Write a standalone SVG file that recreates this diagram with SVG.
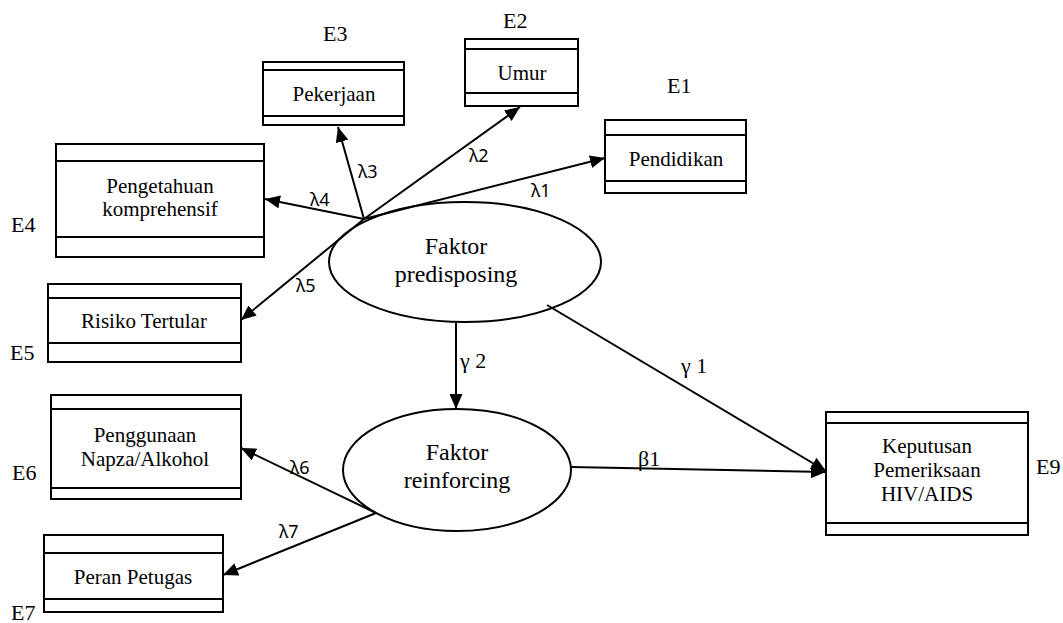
<svg xmlns="http://www.w3.org/2000/svg" width="1063" height="623" viewBox="0 0 1063 623">
<defs>
<marker id="ah" markerUnits="userSpaceOnUse" markerWidth="15" markerHeight="13" refX="15" refY="6.5" orient="auto">
<path d="M0,0 L15,6.5 L0,13 z" fill="#000"/>
</marker>
</defs>
<rect width="1063" height="623" fill="#fff"/>

<g id="nodes" stroke="#000" stroke-width="2" fill="#fff">
<g id="pekerjaan">
<rect x="263" y="62" width="141" height="63"/>
<line x1="263" y1="70" x2="404" y2="70"/>
<line x1="263" y1="116" x2="404" y2="116"/>
<text x="334" y="101" stroke="none" fill="#000" font-family="'Liberation Serif'" font-size="21" text-anchor="middle">Pekerjaan</text>
<text x="323" y="41" stroke="none" fill="#000" font-family="'Liberation Serif'" font-size="22">E3</text>
</g>

<g id="umur">
<rect x="465" y="39" width="113" height="67"/>
<line x1="465" y1="49" x2="578" y2="49"/>
<line x1="465" y1="93" x2="578" y2="93"/>
<text x="522" y="80" stroke="none" fill="#000" font-family="'Liberation Serif'" font-size="21" text-anchor="middle">Umur</text>
<text x="503" y="28" stroke="none" fill="#000" font-family="'Liberation Serif'" font-size="22">E2</text>
</g>

<g id="pendidikan">
<rect x="605" y="120" width="141" height="73"/>
<line x1="605" y1="135" x2="746" y2="135"/>
<line x1="605" y1="181" x2="746" y2="181"/>
<text x="676" y="166" stroke="none" fill="#000" font-family="'Liberation Serif'" font-size="21" text-anchor="middle">Pendidikan</text>
<text x="667" y="93" stroke="none" fill="#000" font-family="'Liberation Serif'" font-size="22">E1</text>
</g>

<g id="pengetahuan">
<rect x="56" y="144" width="208" height="113"/>
<line x1="56" y1="161" x2="264" y2="161"/>
<line x1="56" y1="237" x2="264" y2="237"/>
<text x="160" y="193" stroke="none" fill="#000" font-family="'Liberation Serif'" font-size="21" text-anchor="middle">Pengetahuan</text>
<text x="160" y="216" stroke="none" fill="#000" font-family="'Liberation Serif'" font-size="21" text-anchor="middle">komprehensif</text>
<text x="11" y="232" stroke="none" fill="#000" font-family="'Liberation Serif'" font-size="22">E4</text>
</g>

<g id="risiko">
<rect x="48" y="284" width="193" height="78"/>
<line x1="48" y1="298" x2="241" y2="298"/>
<line x1="48" y1="343" x2="241" y2="343"/>
<text x="144" y="328" stroke="none" fill="#000" font-family="'Liberation Serif'" font-size="21" text-anchor="middle">Risiko Tertular</text>
<text x="10" y="360" stroke="none" fill="#000" font-family="'Liberation Serif'" font-size="22">E5</text>
</g>

<g id="penggunaan">
<rect x="51" y="395" width="190" height="104"/>
<line x1="51" y1="409" x2="241" y2="409"/>
<line x1="51" y1="488" x2="241" y2="488"/>
<text x="145" y="442" stroke="none" fill="#000" font-family="'Liberation Serif'" font-size="21" text-anchor="middle">Penggunaan</text>
<text x="145" y="466" stroke="none" fill="#000" font-family="'Liberation Serif'" font-size="21" text-anchor="middle">Napza/Alkohol</text>
<text x="12" y="480" stroke="none" fill="#000" font-family="'Liberation Serif'" font-size="22">E6</text>
</g>

<g id="peran">
<rect x="44" y="535" width="179" height="77"/>
<line x1="44" y1="553" x2="223" y2="553"/>
<line x1="44" y1="599" x2="223" y2="599"/>
<text x="133" y="584" stroke="none" fill="#000" font-family="'Liberation Serif'" font-size="21" text-anchor="middle">Peran Petugas</text>
<text x="11" y="620" stroke="none" fill="#000" font-family="'Liberation Serif'" font-size="22">E7</text>
</g>

<g id="keputusan">
<rect x="826" y="412" width="202" height="123"/>
<line x1="826" y1="423" x2="1028" y2="423"/>
<line x1="826" y1="523" x2="1028" y2="523"/>
<text x="927" y="453" stroke="none" fill="#000" font-family="'Liberation Serif'" font-size="21" text-anchor="middle">Keputusan</text>
<text x="927" y="477" stroke="none" fill="#000" font-family="'Liberation Serif'" font-size="21" text-anchor="middle">Pemeriksaan</text>
<text x="927" y="501" stroke="none" fill="#000" font-family="'Liberation Serif'" font-size="21" text-anchor="middle">HIV/AIDS</text>
<text x="1036" y="474" stroke="none" fill="#000" font-family="'Liberation Serif'" font-size="22">E9</text>
</g>

<g id="predisposing">
<ellipse cx="465" cy="262" rx="136" ry="60" fill="none"/>
<text x="456" y="254" stroke="none" fill="#000" font-family="'Liberation Serif'" font-size="24" text-anchor="middle">Faktor</text>
<text x="456" y="282" stroke="none" fill="#000" font-family="'Liberation Serif'" font-size="24" text-anchor="middle">predisposing</text>
</g>

<g id="reinforcing">
<ellipse cx="457" cy="470" rx="114" ry="61" fill="none"/>
<text x="457" y="460" stroke="none" fill="#000" font-family="'Liberation Serif'" font-size="24" text-anchor="middle">Faktor</text>
<text x="457" y="488" stroke="none" fill="#000" font-family="'Liberation Serif'" font-size="24" text-anchor="middle">reinforcing</text>
</g>
</g>

<g id="connectors" stroke="#000" stroke-width="2" fill="none" marker-end="url(#ah)">
<line x1="364" y1="219" x2="338" y2="127"/>
<line x1="364" y1="219" x2="520" y2="107"/>
<line x1="364" y1="219" x2="605" y2="158"/>
<line x1="364" y1="219" x2="265" y2="199"/>
<line x1="364" y1="219" x2="241" y2="320"/>
<line x1="456" y1="323" x2="456" y2="409"/>
<line x1="547" y1="305" x2="826" y2="471"/>
<line x1="571" y1="467" x2="826" y2="472"/>
<line x1="376" y1="513" x2="241" y2="448"/>
<line x1="376" y1="513" x2="223" y2="575"/>
</g>
<g id="labels" fill="#000">
<text x="358" y="178" font-family="'Noto Sans'" font-size="18">λ3</text>
<text x="469" y="162" font-family="'Noto Sans'" font-size="18">λ2</text>
<text x="531" y="197" font-family="'Noto Sans'" font-size="18">λ1</text>
<text x="310" y="206" font-family="'Noto Sans'" font-size="18">λ4</text>
<text x="296" y="292" font-family="'Noto Sans'" font-size="18">λ5</text>
<text x="290" y="474" font-family="'Noto Sans'" font-size="18">λ6</text>
<text x="279" y="538" font-family="'Noto Sans'" font-size="18">λ7</text>
<text x="460" y="368" font-family="'Liberation Serif'" font-size="22">γ 2</text>
<text x="681" y="373" font-family="'Liberation Serif'" font-size="22">γ 1</text>
<text x="638" y="466" font-family="'Liberation Serif'" font-size="22">β1</text>
</g>
</svg>
